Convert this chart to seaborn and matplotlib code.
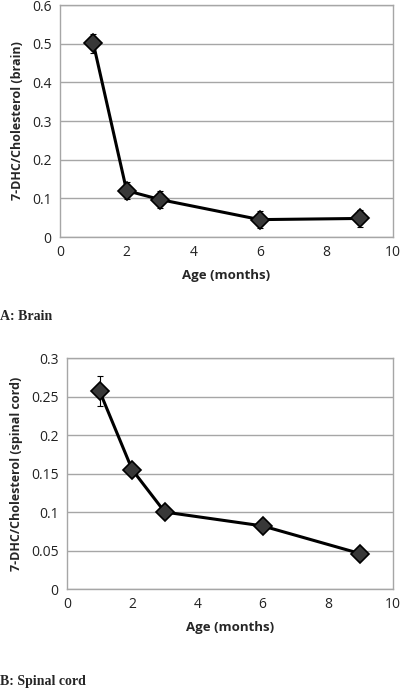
import numpy as np
import pandas as pd
import matplotlib
matplotlib.use("Agg")
import matplotlib.pyplot as plt
import seaborn as sns

# --- data ---
age = [1, 2, 3, 6, 9]
brain_ratio = [0.501, 0.120, 0.097, 0.045, 0.048]
brain_err = [0.025, 0.022, 0.022, 0.022, 0.022]
spinal_ratio = [0.257, 0.155, 0.100, 0.082, 0.046]
spinal_err = [0.019, 0.003, 0.003, 0.003, 0.003]

sns.set_style("white")
plt.rcParams['font.family'] = ['Open Sans', 'DejaVu Sans']

fig = plt.figure(figsize=(4.0, 6.89), dpi=100)
ax_a = fig.add_axes([0.15, 0.656, 0.8325, 0.3367])
ax_b = fig.add_axes([0.1675, 0.145, 0.815, 0.3354])


def draw_panel(ax, y, err, ylim, yticks, yticklabels, ylabel):
    df = pd.DataFrame({'Age': age, 'Ratio': y})
    ax.errorbar(age, y, yerr=err, fmt='none', ecolor='black', elinewidth=0.8,
                capsize=2.5, capthick=0.8, zorder=3)
    sns.lineplot(data=df, x='Age', y='Ratio', ax=ax, color='black', linewidth=2.2,
                 marker='D', markersize=9, markerfacecolor='#383838',
                 markeredgecolor='black', markeredgewidth=1.2, zorder=4)
    ax.set_xlim(0, 10)
    ax.set_ylim(*ylim)
    ax.set_xticks([0, 2, 4, 6, 8, 10])
    ax.set_yticks(yticks)
    ax.set_yticklabels(yticklabels)
    ax.yaxis.grid(True, color='#a6a6a6', linewidth=1.0)
    ax.xaxis.grid(False)
    ax.set_axisbelow(True)
    for s in ax.spines.values():
        s.set_color('#a6a6a6')
        s.set_linewidth(1.0)
    ax.tick_params(axis='both', length=0, labelsize=10, pad=6, colors='#222222')
    ax.set_xlabel('Age (months)', fontsize=9.5, fontweight='bold', labelpad=6)
    ax.set_ylabel(ylabel, fontsize=9, fontweight='bold', labelpad=6)


draw_panel(ax_a, brain_ratio, brain_err, (0, 0.6),
           [0, 0.1, 0.2, 0.3, 0.4, 0.5, 0.6],
           ['0', '0.1', '0.2', '0.3', '0.4', '0.5', '0.6'],
           '7-DHC/Cholesterol (brain)')
draw_panel(ax_b, spinal_ratio, spinal_err, (0, 0.3),
           [0, 0.05, 0.1, 0.15, 0.2, 0.25, 0.3],
           ['0', '0.05', '0.1', '0.15', '0.2', '0.25', '0.3'],
           '7-DHC/Cholesterol (spinal cord)')

fig.text(0.0, 1 - 316 / 689, 'A: Brain', fontsize=10, fontweight='bold',
         family=['Liberation Serif', 'DejaVu Serif'], va='center', ha='left')
fig.text(0.0, 1 - 681 / 689, 'B: Spinal cord', fontsize=10, fontweight='bold',
         family=['Liberation Serif', 'DejaVu Serif'], va='center', ha='left')

fig.savefig('out.png', dpi=100)
